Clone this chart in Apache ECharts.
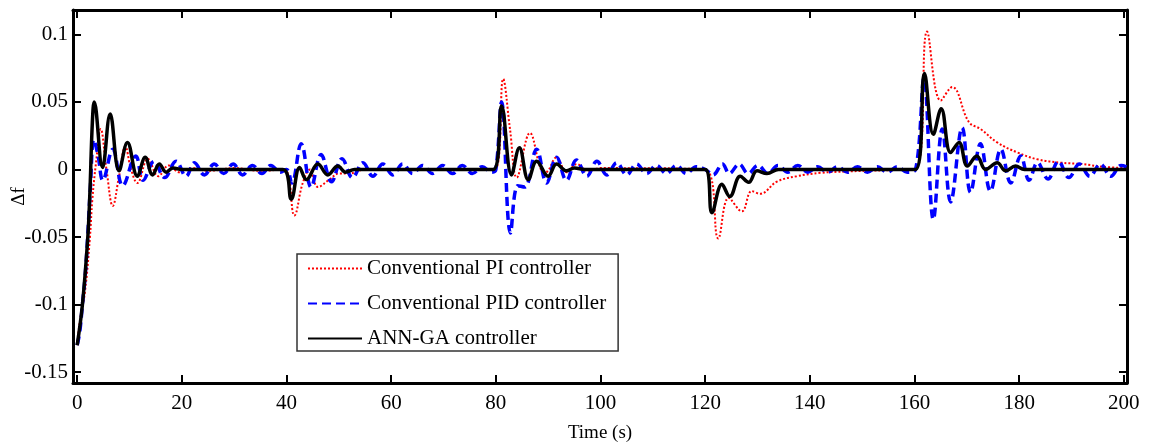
<!DOCTYPE html>
<html>
<head>
<meta charset="utf-8">
<script src="https://cdn.jsdelivr.net/npm/echarts@6/dist/echarts.min.js"></script>
<style>
  html, body { margin: 0; padding: 0; background: #fff; }
  #freq-chart { width: 1158px; height: 443px; }
</style>
</head>
<body>
<div id="freq-chart"></div>
<script>
// tick labels
const xTicks = [0, 20, 40, 60, 80, 100, 120, 140, 160, 180, 200]
const yTicks = [-0.15, -0.1, -0.05, 0, 0.05, 0.1]

const seriesNames = ['Conventional PI controller', 'Conventional PID controller', 'ANN-GA controller']

// [time (s), delta f]
const piData = [
  [0, -0.13], [0.5, -0.113], [1.5, -0.09], [2.4, -0.052], [2.9, -0.022], [3.6, 0.005], [4.5, 0.03],
  [5.6, 0.0], [6.8, -0.027], [8.0, -0.005], [9.2, 0.017], [10.3, 0.0], [11.5, -0.01], [13.5, 0.008],
  [15.5, -0.005], [17.5, 0.003], [19.5, -0.002], [22, 0.001], [25, -0.001], [30, 0.001], [35, -0.001],
  [39.5, 0], [41.5, -0.034], [43.1, -0.01], [44.5, 0.0], [46, -0.013], [48.2, -0.0075], [50, -0.003],
  [52, -0.003], [55, 0], [79.8, 0], [81.4, 0.067], [82.7, 0.03], [84, -0.006], [86.5, 0.027],
  [88.6, 0.0], [89.5, -0.002], [91.6, 0.009], [93.5, -0.002], [95.5, 0.004], [97.5, -0.001],
  [100, 0.001], [120, 0], [122.5, -0.051], [124.5, -0.021], [127, -0.031], [128.9, -0.016],
  [130.5, -0.018], [133.7, -0.009], [137.5, -0.005], [142, -0.0025], [147, -0.0015], [155, -0.0005],
  [160.2, 0], [162.4, 0.102], [165, 0.051], [167.2, 0.061], [170.4, 0.035], [172.6, 0.03],
  [175.8, 0.02], [179.7, 0.0125], [183.5, 0.0075], [188, 0.005], [192, 0.004], [196, 0.002], [200.5, 0.001]
]

const pidData = [
  [0, -0.13], [0.5, -0.12], [1, -0.1], [1.5, -0.08], [2, -0.05], [2.5, -0.015], [3.2, 0.022], [4.0, 0.01],
  [4.9, -0.008], [6.8, 0.015], [8.7, -0.012], [11.2, 0.01], [12.6, -0.008], [14.7, 0.006], [16.7, -0.006],
  [18.9, 0.006], [20.8, -0.005], [22.4, 0.005], [24.3, -0.004], [26.2, 0.004], [28.0, -0.003],
  [29.8, 0.004], [31.6, -0.004], [33.5, 0.003], [35.3, -0.003], [37.0, 0.003], [38.8, -0.002],
  [40.0, 0.0], [41.0, -0.01], [42.8, 0.019], [44.7, -0.013], [46.6, 0.011], [48.6, -0.009],
  [50.6, 0.008], [52.6, -0.006], [54.6, 0.005], [56.5, -0.005], [58.4, 0.004], [60.3, -0.004],
  [62.2, 0.004], [64.1, -0.003], [66.0, 0.003], [67.9, -0.003], [69.8, 0.003], [71.7, -0.003],
  [73.6, 0.003], [75.5, -0.003], [77.4, 0.002], [79.2, -0.002], [80.0, 0.0], [81.1, 0.05],
  [82.8, -0.047], [84.2, -0.012], [85.5, -0.013], [87.8, 0.015], [89.7, -0.01], [91.6, 0.009],
  [93.5, -0.008], [95.4, 0.007], [97.4, -0.005], [99.3, 0.006], [101.2, -0.004], [103.1, 0.005],
  [105.0, -0.004], [106.9, 0.004], [108.8, -0.003], [110.7, 0.003], [112.6, -0.003], [114.5, 0.003],
  [116.4, -0.003], [118.3, 0.002], [120.0, 0.0], [121.5, -0.004], [123.3, 0.004], [124.6, -0.003],
  [126.5, 0.004], [128.2, -0.003], [130.1, 0.003], [132.0, -0.003], [133.9, 0.003], [135.8, -0.002],
  [137.7, 0.003], [139.6, -0.002], [141.5, 0.002], [143.4, -0.002], [145.3, 0.002], [147.2, -0.002],
  [149.1, 0.002], [151.0, -0.002], [152.9, 0.002], [154.8, -0.002], [156.7, 0.002], [158.6, -0.002],
  [160.2, 0.0], [161.8, 0.067], [163.6, -0.037], [165.3, 0.03], [166.9, -0.024], [169.1, 0.031],
  [170.7, -0.017], [172.6, 0.019], [174.5, -0.016], [176.5, 0.015], [178.4, -0.01], [180.3, 0.01],
  [181.9, -0.008], [183.5, 0.005], [185.5, -0.007], [187.5, 0.006], [189.5, -0.006], [191.5, 0.004],
  [193.5, -0.005], [195.5, 0.004], [197.5, -0.005], [199.5, 0.003], [200.5, 0.002]
]

const annData = [
  [0, -0.13], [1.0, -0.1], [2.0, -0.052], [2.4, -0.02], [2.9, 0.035], [3.25, 0.05], [4.85, 0.0015],
  [6.3, 0.041], [8.0, -0.001], [9.6, 0.02], [11.5, -0.005], [13.0, 0.009], [14.4, -0.004], [15.7, 0.004],
  [17.0, -0.002], [18.3, 0.001], [20, 0], [39.3, 0], [40.9, -0.022], [42.5, 0.0015], [43.8, -0.0075],
  [46.0, 0.004], [47.9, -0.004], [49.8, 0.0025], [51.3, -0.002], [53, 0], [79.5, 0], [81.1, 0.047],
  [83.0, -0.004], [84.5, 0.016], [86.2, -0.0075], [87.8, 0.006], [90, -0.005], [91.6, 0.004],
  [93.5, -0.001], [95, 0.001], [97, 0], [120, 0], [121.3, -0.032], [123.2, -0.011], [124.7, -0.02],
  [126.7, -0.005], [128.3, -0.0095], [129.9, -0.001], [131.8, -0.003], [134, 0], [160.2, 0],
  [161.9, 0.071], [163.6, 0.026], [165.1, 0.045], [166.9, 0.0125], [168.5, 0.02], [170.1, 0.0025],
  [171.9, 0.01], [173.6, 0], [175.8, 0.005], [177.4, -0.001], [179.3, 0.0025], [181, 0], [200.5, 0]
]

const font = 'Liberation Serif'

let myChart = echarts.init(document.getElementById('freq-chart'))

const frameAxisX = {
  type: 'value', min: -0.8, max: 200.6,
  axisLine: { show: true, onZero: false, lineStyle: { color: '#000', width: 3 } },
  axisTick: { inside: true, length: 8, lineStyle: { color: '#000', width: 2 }, customValues: xTicks },
  splitLine: { show: false }
}
const frameAxisY = {
  type: 'value', min: -0.158, max: 0.118,
  axisLine: { show: true, onZero: false, lineStyle: { color: '#000', width: 3 } },
  axisTick: { inside: true, length: 8, lineStyle: { color: '#000', width: 2 }, customValues: yTicks },
  splitLine: { show: false }
}

myChart.setOption({
  animation: false,
  backgroundColor: '#fff',
  textStyle: { fontFamily: font, color: '#000' },
  grid: { left: 73, right: 31, top: 10, bottom: 60, outerBoundsMode: 'none', containLabel: false },
  legend: {
    orient: 'vertical',
    left: 297,
    top: 254,
    padding: [4, 12, 2, 10],
    itemGap: 14,
    itemWidth: 54,
    itemHeight: 16,
    itemTextGap: 12,
    borderColor: '#333',
    borderWidth: 1.5,
    borderRadius: 0,
    itemStyle: { opacity: 0 },
    textStyle: { fontFamily: font, fontSize: 21, color: '#000' },
    data: seriesNames
  },
  xAxis: [
    Object.assign({}, frameAxisX, {
      position: 'bottom',
      name: 'Time (s)',
      nameLocation: 'middle',
      nameGap: 41,
      nameMoveOverlap: false,
      nameTextStyle: { fontFamily: font, fontSize: 19, color: '#000' },
      axisLabel: { customValues: xTicks, fontFamily: font, fontSize: 21, color: '#000', margin: 10 }
    }),
    Object.assign({}, frameAxisX, { position: 'top', axisLabel: { show: false } })
  ],
  yAxis: [
    Object.assign({}, frameAxisY, {
      position: 'left',
      name: 'Δf',
      nameLocation: 'middle',
      nameGap: 44,
      nameMoveOverlap: false,
      nameRotate: 90,
      nameTextStyle: { fontFamily: font, fontSize: 19, color: '#000' },
      axisLabel: { customValues: yTicks, fontFamily: font, fontSize: 21, color: '#000', margin: 5 }
    }),
    Object.assign({}, frameAxisY, { position: 'right', axisLabel: { show: false } })
  ],
  series: [
    {
      name: seriesNames[0], type: 'line', showSymbol: false, symbol: 'none', smooth: 0.4,
      color: '#ff0000',
      lineStyle: { color: '#ff0000', width: 2, type: [2, 2] },
      data: piData, z: 2
    },
    {
      name: seriesNames[1], type: 'line', showSymbol: false, symbol: 'none', smooth: 0.4,
      color: '#0000ff',
      lineStyle: { color: '#0000ff', width: 3.5, type: [9, 5] },
      data: pidData, z: 3
    },
    {
      name: seriesNames[2], type: 'line', showSymbol: false, symbol: 'none', smooth: 0.4,
      color: '#000',
      lineStyle: { color: '#000', width: 3.5 },
      data: annData, z: 4
    }
  ]
})
</script>
</body>
</html>
